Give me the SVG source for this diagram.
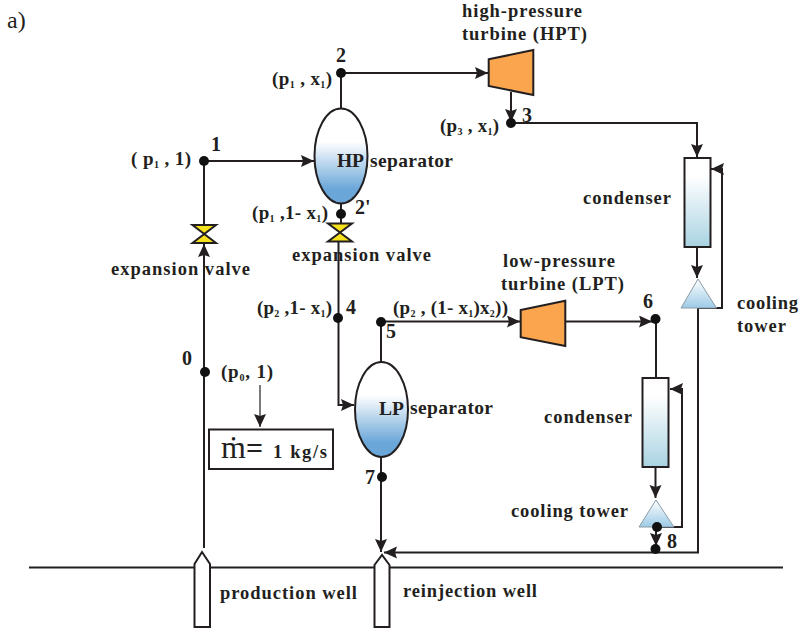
<svg xmlns="http://www.w3.org/2000/svg" width="801" height="631" viewBox="0 0 801 631">
<style>
text{font-family:"Liberation Serif","DejaVu Serif",serif;font-weight:bold;font-size:18.500px;fill:#231f20}
.n{font-size:20px}
.p{font-size:19px}
.s{font-size:10px}
.big{font-size:19.500px}
.c{fill:none;stroke:#231f20;stroke-width:2}
.a{marker-end:url(#ah)}
.d{fill:#111}
.well{fill:#fff;stroke:#231f20;stroke-width:2}
.tb{fill:#fba64e;stroke:#231f20;stroke-width:2}
.v{fill:#f6e21c;stroke:#231f20;stroke-width:2;stroke-linejoin:miter}
</style>
<defs>
<marker id="ah" markerUnits="userSpaceOnUse" markerWidth="14" markerHeight="14" refX="13" refY="6" orient="auto"><path d="M0 0L13 6L0 12L2 6Z" fill="#231f20"/></marker>
<linearGradient id="sep" x1="0" y1="0" x2="0" y2="1"><stop offset="0.35" stop-color="#fff"/><stop offset="0.85" stop-color="#6aa6d8"/></linearGradient>
<linearGradient id="cond" x1="0" y1="0" x2="0" y2="1"><stop offset="0.2" stop-color="#fff"/><stop offset="1" stop-color="#a9d3e2"/></linearGradient>
<linearGradient id="twr" x1="0" y1="0" x2="0" y2="1"><stop offset="0" stop-color="#fff"/><stop offset="1" stop-color="#9ccbe6"/></linearGradient>
</defs>
<text x="7" y="28" style="font-weight:normal;font-size:24px">a)</text>
<line id="ground" x1="29" y1="567.500" x2="783" y2="567.500" stroke="#231f20" stroke-width="2"/>
<g id="connectors">
<path class="c a" d="M204 548V244"/>
<path class="c" d="M204 225V161"/>
<path class="c a" d="M204 161H314"/>
<path class="c" d="M341 108V73"/>
<path class="c a" d="M341 73H488"/>
<path class="c a" d="M511 92V122"/>
<path class="c a" d="M511 123H697V157"/>
<path class="c a" d="M697 247V278"/>
<path class="c a" d="M698 308H722V169H711"/>
<path class="c" d="M341 203V223"/>
<path class="c a" d="M338.500 242V405H354"/>
<path class="c" d="M381 362V322"/>
<path class="c a" d="M381 321.500H520"/>
<path class="c a" d="M565 321.500H652"/>
<path class="c" d="M656 319V378"/>
<path class="c a" d="M655.500 467V498"/>
<path class="c a" d="M657 527H682V389H670"/>
<path class="c a" d="M656 527V546"/>
<path class="c a" d="M698 308V552.500H384"/>
<path class="c a" d="M381 457V552"/>
<path d="M260 385V427" fill="none" stroke="#231f20" stroke-width="1.200" marker-end="url(#ah)"/>
</g>
<g id="production-well"><path class="well" d="M194.500 627V564L202 552L210 564V627Z"/><text x="220" y="599" textLength="137">production well</text></g>
<g id="reinjection-well"><path class="well" d="M374.500 627V565L382 555L389.500 565V627Z"/><text x="403" y="597" textLength="134">reinjection well</text></g>
<g id="valve-1"><path class="v" d="M192.500 225H216L192.500 243H216Z"/><text x="111" y="275" textLength="139">expansion valve</text></g>
<g id="valve-2"><path class="v" d="M328 223.500H352L328 241.500H352Z"/><text x="292" y="261" textLength="139">expansion valve</text></g>
<g id="hp-separator"><ellipse cx="341" cy="156" rx="26.500" ry="47.500" fill="url(#sep)" stroke="#231f20" stroke-width="2"/><text class="big" x="337" y="167" textLength="27">HP</text><text class="big" x="370" y="167" textLength="83">separator</text></g>
<g id="lp-separator"><ellipse cx="381.500" cy="409.500" rx="26.500" ry="47.500" fill="url(#sep)" stroke="#231f20" stroke-width="2"/><text class="big" x="379" y="415" textLength="25">LP</text><text class="big" x="410" y="414" textLength="83">separator</text></g>
<g id="hpt"><path class="tb" d="M488.700 59.300L533.300 50V95L488.700 86Z"/><text x="462" y="17" textLength="120">high-pressure</text><text x="462" y="40" textLength="125">turbine (HPT)</text></g>
<g id="lpt"><path class="tb" d="M520.700 310L565.300 300.700V346L520.700 337.300Z"/><text x="503" y="267" textLength="112">low-pressure</text><text x="501" y="290" textLength="123">turbine (LPT)</text></g>
<g id="condenser-1"><rect x="684.500" y="158" width="26" height="89" fill="url(#cond)" stroke="#231f20" stroke-width="2"/><text x="583" y="204" textLength="88">condenser</text></g>
<g id="condenser-2"><rect x="642.500" y="378" width="26" height="89" fill="url(#cond)" stroke="#231f20" stroke-width="2"/><text x="544" y="423" textLength="88">condenser</text></g>
<g id="tower-1"><path d="M698 279L716.500 308H681Z" fill="url(#twr)" stroke="#8a9aa5" stroke-width="1"/><text x="737" y="309" textLength="61">cooling</text><text x="737" y="332" textLength="49">tower</text></g>
<g id="tower-2"><path d="M656 500L674 527H639Z" fill="url(#twr)" stroke="#8a9aa5" stroke-width="1"/><text x="511" y="517" textLength="117">cooling tower</text></g>
<g id="point-0"><circle class="d" cx="205" cy="372" r="5"/><text class="n" x="182" y="365">0</text><text class="p" x="221" y="378" textLength="52">(p<tspan class="s" dy="3">0</tspan><tspan dy="-3">, 1)</tspan></text></g>
<g id="point-1"><circle class="d" cx="204" cy="161" r="5"/><text class="n" x="211" y="151">1</text><text class="p" x="131" y="165" textLength="60">( p<tspan class="s" dy="3">1</tspan><tspan dy="-3"> , 1)</tspan></text></g>
<g id="point-2"><circle class="d" cx="341" cy="73" r="5"/><text class="n" x="336" y="62">2</text><text class="p" x="272" y="85" textLength="60">(p<tspan class="s" dy="3">1</tspan><tspan dy="-3"> , x</tspan><tspan class="s" dy="3">1</tspan><tspan dy="-3">)</tspan></text></g>
<g id="point-2p"><circle class="d" cx="341" cy="214" r="5"/><text class="n" x="355" y="214">2'</text><text class="p" x="252" y="219" textLength="76">(p<tspan class="s" dy="3">1</tspan><tspan dy="-3"> ,1- x</tspan><tspan class="s" dy="3">1</tspan><tspan dy="-3">)</tspan></text></g>
<g id="point-3"><circle class="d" cx="511" cy="123" r="5"/><text class="n" x="522" y="122">3</text><text class="p" x="440" y="132" textLength="59">(p<tspan class="s" dy="3">3</tspan><tspan dy="-3"> , x</tspan><tspan class="s" dy="3">1</tspan><tspan dy="-3">)</tspan></text></g>
<g id="point-4"><circle class="d" cx="338" cy="318" r="5"/><text class="n" x="346" y="314">4</text><text class="p" x="257" y="314" textLength="75">(p<tspan class="s" dy="3">2</tspan><tspan dy="-3"> ,1- x</tspan><tspan class="s" dy="3">1</tspan><tspan dy="-3">)</tspan></text></g>
<g id="point-5"><circle class="d" cx="381" cy="322" r="5"/><text class="n" x="386" y="338">5</text><text class="p" x="393" y="314" textLength="115">(p<tspan class="s" dy="3">2</tspan><tspan dy="-3"> , (1- x</tspan><tspan class="s" dy="3">1</tspan><tspan dy="-3">)x</tspan><tspan class="s" dy="3">2</tspan><tspan dy="-3">))</tspan></text></g>
<g id="point-6"><circle class="d" cx="655.500" cy="319" r="5"/><text class="n" x="643" y="308">6</text></g>
<g id="point-7"><circle class="d" cx="382" cy="477" r="5"/><text class="n" x="365" y="484">7</text></g>
<g id="point-8"><circle class="d" cx="657" cy="527" r="5"/><circle class="d" cx="655.500" cy="549" r="5"/><text class="n" x="667" y="548">8</text></g>
<g id="flow-rate"><rect x="209" y="429.500" width="124" height="39.500" fill="#fff" stroke="#231f20" stroke-width="2"/><text x="221" y="458" style="font-weight:normal;font-size:32px">ṁ</text><text x="246" y="458" style="font-size:30px">=</text><text x="273" y="458" textLength="54">1 kg/s</text></g>
</svg>
